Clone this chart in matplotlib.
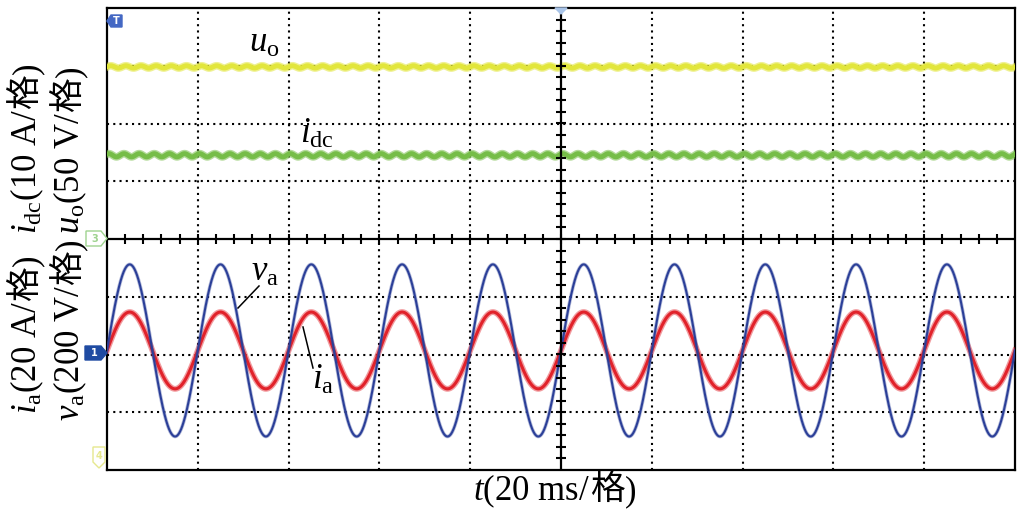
import numpy as np
import matplotlib
matplotlib.use('Agg')
import matplotlib.pyplot as plt
from matplotlib.patches import Polygon

plt.rcParams['mathtext.fontset'] = 'custom'
plt.rcParams['mathtext.rm'] = 'Liberation Serif'
plt.rcParams['mathtext.it'] = 'Liberation Serif:italic'

# scope settings / values
ms_per_div = 20
n_xdiv = 10
n_ydiv = 8
grid_hz = 50

ch_scale = [50, 10, 200, 20]          # u_o (V/div), i_dc (A/div), v_a (V/div), i_a (A/div)
ch_ref = [0.0, -3.78, -1.93, -1.93]   # channel zero level (div)
dc_level = [149.0, 52.3]              # u_o (V), i_dc (A)
dc_ripple = [1.0, 0.28]               # ripple amplitude
ripple_hz = 300
ac_peak = [298.0, 13.3]               # v_a (V), i_a (A)

colors = ['#e2e63c', '#76bd48', '#2b3f98', '#e1222a']

W, H = 1018, 519
fig = plt.figure(figsize=(W / 100, H / 100), dpi=100)
ax = fig.add_axes([107 / W, 1 - 470 / H, 908 / W, 462 / H])
ax.set_xlim(0, n_xdiv)
ax.set_ylim(-n_ydiv / 2, n_ydiv / 2)
ax.set_xticks([])
ax.set_yticks([])
for sp in ax.spines.values():
    sp.set_linewidth(1.6)

# dotted graticule
for k in range(1, n_xdiv):
    if k != n_xdiv // 2:
        ax.axvline(k, color='black', lw=1.5, ls=(0, (1, 2)), dash_capstyle='butt', zorder=1)
for k in range(-n_ydiv // 2 + 1, n_ydiv // 2):
    if k != 0:
        ax.axhline(k, color='black', lw=1.5, ls=(0, (1, 2)), dash_capstyle='butt', zorder=1)

t = np.linspace(0, ms_per_div * n_xdiv, 6001)
x = t / ms_per_div
w = 2 * np.pi * grid_hz * t / 1000
wr = 2 * np.pi * ripple_hz * t / 1000

uo = dc_level[0] + dc_ripple[0] * np.sin(wr)
idc = dc_level[1] + dc_ripple[1] * np.sin(wr + 0.8)
va = ac_peak[0] * np.sin(w)
ia = ac_peak[1] * np.sin(w)

def div(v, ch):
    return ch_ref[ch] + v / ch_scale[ch]

ax.plot(x, div(uo, 0), color=colors[0], lw=5.5, alpha=0.55, zorder=3)
ax.plot(x, div(uo, 0), color=colors[0], lw=3.5, zorder=3)
ax.plot(x, div(idc, 1), color=colors[1], lw=5.5, alpha=0.55, zorder=3)
ax.plot(x, div(idc, 1), color=colors[1], lw=3.5, zorder=3)
ax.plot(x, div(ia, 3), color=colors[3], lw=4.2, alpha=0.45, zorder=3)
ax.plot(x, div(ia, 3), color=colors[3], lw=2.2, zorder=3)
ax.plot(x, div(va, 2), color=colors[2], lw=2.6, alpha=0.35, zorder=4)
ax.plot(x, div(va, 2), color=colors[2], lw=1.5, zorder=4)

# centre axes with minor ticks
ax.axhline(0, color='black', lw=1.6, zorder=5)
ax.axvline(n_xdiv / 2, color='black', lw=1.6, zorder=5)
xt = np.arange(0.2, n_xdiv, 0.2)
ax.plot(xt, np.zeros_like(xt), ls='none', marker='|', ms=7, mew=1.5, color='black', zorder=5)
yt = np.arange(-n_ydiv / 2 + 0.2, n_ydiv / 2, 0.2)
ax.plot(np.full_like(yt, n_xdiv / 2), yt, ls='none', marker='_', ms=7, mew=1.5, color='black', zorder=5)

def fx(px, py):
    return px / W, 1 - py / H

# channel markers
def marker(pts, fc, ec, label, tc, tx, ty):
    fig.patches.append(Polygon([fx(*p) for p in pts], closed=True, facecolor=fc,
                               edgecolor=ec, lw=1, transform=fig.transFigure))
    fig.text(*fx(tx, ty), label, fontsize=7, color=tc, ha='center', va='center', weight='bold')

marker([(107, 21), (111, 15), (122, 15), (122, 27), (111, 27)], '#4468c4', '#4468c4', 'T', 'white', 116, 21)
marker([(86, 231), (101, 231), (107, 238.5), (101, 246), (86, 246)], 'white', '#9fd38f', '3', '#9fd38f', 95, 238.5)
marker([(85, 346), (101, 346), (107, 353), (101, 360), (85, 360)], '#1f4ba2', '#1f4ba2', '1', 'white', 94, 353)
marker([(93, 447), (105, 447), (105, 462), (99, 468), (93, 462)], 'white', '#e6e88e', '4', '#e6e88e', 99, 456)
marker([(555, 8), (567, 8), (561, 14)], '#a9c4e8', '#a9c4e8', '', 'white', 561, 10)

fig.canvas.draw()
renderer = fig.canvas.get_renderer()
fs = 25
cjk = 'Noto Sans CJK SC'
serif = 'Liberation Serif'

def vlabel(px, py, pieces):
    y = py
    for s, fam in pieces:
        txt = fig.text(*fx(px, y), s, rotation=90, rotation_mode='anchor', ha='left',
                       va='baseline', fontsize=fs, family=fam)
        y -= txt.get_window_extent(renderer).height

def hlabel(px, py, pieces):
    xx = px
    for s, fam in pieces:
        txt = fig.text(*fx(xx, py), s, ha='left', va='baseline', fontsize=fs, family=fam)
        xx += txt.get_window_extent(renderer).width

vlabel(36, 234, [(r'$i_{\mathrm{dc}}$(10 A/', serif), ('格', cjk), (')', serif)])
vlabel(79, 234, [(r'$u_{\mathrm{o}}$(50 V/', serif), ('格', cjk), (')', serif)])
vlabel(36, 414, [(r'$i_{\mathrm{a}}$(20 A/', serif), ('格', cjk), (')', serif)])
vlabel(79, 421, [(r'$v_{\mathrm{a}}$(200 V/', serif), ('格', cjk), (')', serif)])
hlabel(473, 500, [(r'$t$(20 ms/', serif), ('格', cjk), (')', serif)])

# trace names
fig.text(*fx(249, 52), r'$u_{\mathrm{o}}$', fontsize=fs, family=serif)
fig.text(*fx(300, 143), r'$i_{\mathrm{dc}}$', fontsize=fs, family=serif)
fig.text(*fx(251, 281), r'$v_{\mathrm{a}}$', fontsize=fs, family=serif)
fig.text(*fx(312, 389), r'$i_{\mathrm{a}}$', fontsize=fs, family=serif)
fig.add_artist(plt.Line2D(*zip(fx(238, 308), fx(259, 286)), color='black', lw=1.1))
fig.add_artist(plt.Line2D(*zip(fx(303, 327), fx(313, 368)), color='black', lw=1.1))

fig.savefig('out.png', dpi=100)
